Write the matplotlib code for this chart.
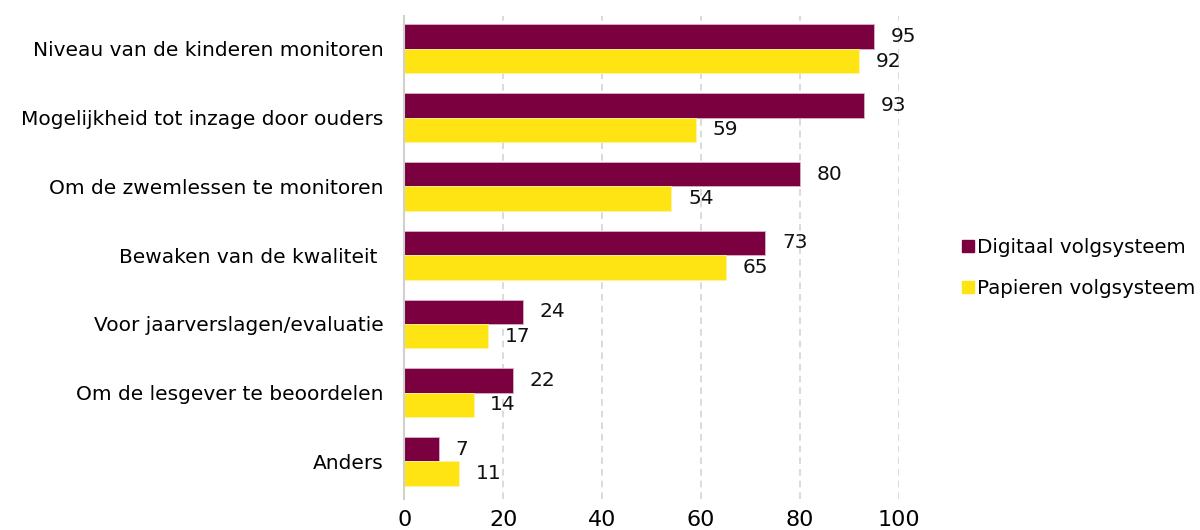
import numpy as np
import matplotlib
matplotlib.use('Agg')
import matplotlib.pyplot as plt
from matplotlib.lines import Line2D

categories = ['Niveau van de kinderen monitoren',
              'Mogelijkheid tot inzage door ouders',
              'Om de zwemlessen te monitoren',
              'Bewaken van de kwaliteit ',
              'Voor jaarverslagen/evaluatie',
              'Om de lesgever te beoordelen',
              'Anders']
digitaal = [95, 93, 80, 73, 24, 22, 7]
papieren = [92, 59, 54, 65, 17, 14, 11]
series_names = ['Digitaal volgsysteem', 'Papieren volgsysteem']
xticks = [0, 20, 40, 60, 80, 100]

c_dig = '#7a0040'
c_pap = '#ffe414'

plt.rcParams['font.family'] = ['DejaVu Sans']

fig = plt.figure(figsize=(12, 5.3), dpi=100)
ax = fig.add_axes([0.337, 0.058, 0.412, 0.912])

y = np.arange(len(categories))
h = 0.355
ax.barh(y - h / 2, digitaal, height=h, color=c_dig, edgecolor='#d9b3c6', linewidth=0.6, zorder=3)
ax.barh(y + h / 2, papieren, height=h, color=c_pap, edgecolor='#fff3a0', linewidth=0.6, zorder=3)

for i in range(len(categories)):
    ax.annotate(str(digitaal[i]), (digitaal[i], y[i] - h / 2), xytext=(12, 0),
                textcoords='offset points', va='center', ha='left', fontsize=14.5,
                color='#111111', annotation_clip=False)
    ax.annotate(str(papieren[i]), (papieren[i], y[i] + h / 2), xytext=(12, 0),
                textcoords='offset points', va='center', ha='left', fontsize=14.5,
                color='#111111', annotation_clip=False)

ax.set_xlim(0, 100)
ax.set_ylim(len(categories) - 0.45, -0.48)
ax.set_yticks(y)
ax.set_yticklabels(categories, fontsize=14.5)
ax.set_xticks(xticks)
ax.set_xticklabels([str(t) for t in xticks], fontsize=16)
ax.tick_params(axis='y', length=0, pad=15)
ax.tick_params(axis='x', length=0, pad=8)

ax.grid(axis='x', color='#d4d4d4', linestyle=(0, (4, 3)), linewidth=1.2, zorder=0)
for s in ['top', 'right', 'bottom']:
    ax.spines[s].set_visible(False)
ax.spines['left'].set_color('#d0d0d0')
ax.spines['left'].set_linewidth(1.5)
ax.spines['left'].set_zorder(4)

handles = [Line2D([], [], marker='s', linestyle='none', markersize=8, color=c_dig),
           Line2D([], [], marker='s', linestyle='none', markersize=8, color=c_pap)]
fig.legend(handles, series_names, loc='center left', bbox_to_anchor=(0.8, 0.495),
           frameon=False, fontsize=14.3, handletextpad=0.05, labelspacing=1.1,
           handlelength=0.8, borderaxespad=0, borderpad=0)

fig.savefig('out.png', dpi=100)
